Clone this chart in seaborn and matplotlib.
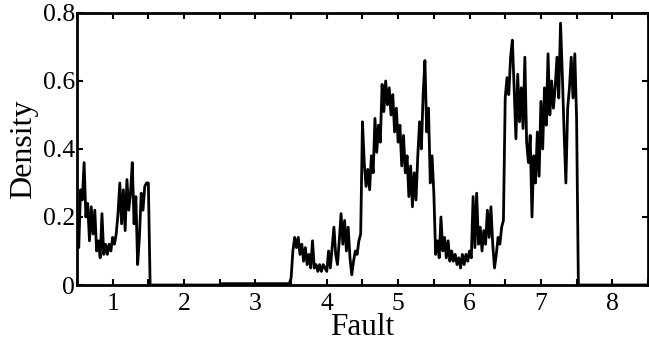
import numpy as np
import pandas as pd
import matplotlib
matplotlib.use("Agg")
import matplotlib.pyplot as plt
import seaborn as sns
from matplotlib.ticker import MultipleLocator, FixedLocator, FixedFormatter

# ---- data (step 0.025 in "Fault") ----
step = 0.025

# Fault 1 region: x = 0.500 .. 1.500
fault1_density = [
    0.19, 0.11, 0.28, 0.25, 0.36, 0.20, 0.24, 0.13, 0.23, 0.15,
    0.22, 0.10, 0.13, 0.08, 0.21, 0.09, 0.12, 0.09, 0.12, 0.10,
    0.14, 0.12, 0.15, 0.21, 0.30, 0.18, 0.28, 0.16, 0.31, 0.22,
    0.27, 0.36, 0.18, 0.26, 0.06, 0.14, 0.27, 0.22, 0.29, 0.30,
    0.30,
]
# x = 1.525 .. 2.500 : zero
gap1_density = [0.0] * 40
# x = 2.525 .. 3.475 : almost zero
gap2_density = [0.004] * 39
# Faults 4-7 region: x = 3.500 .. 7.500
fault4to7_density = [
    0.02, 0.10, 0.14, 0.11,  0.14, 0.09, 0.12, 0.07,  0.11, 0.06, 0.09, 0.05,
    0.13, 0.05, 0.06, 0.04,  0.06, 0.04, 0.06, 0.05,  0.04, 0.10, 0.05, 0.11,
    0.17, 0.09, 0.06, 0.13,  0.21, 0.12, 0.19, 0.10,  0.17, 0.08, 0.03, 0.07,
    0.10, 0.09, 0.13, 0.15,  0.48, 0.36, 0.29, 0.34,  0.28, 0.38, 0.33, 0.49,
    0.39, 0.47, 0.42, 0.59,  0.51, 0.60, 0.53, 0.58,  0.50, 0.56, 0.45, 0.52,
    0.42, 0.47, 0.35, 0.44,  0.33, 0.38, 0.26, 0.35,  0.23, 0.33, 0.25, 0.38,
    0.48, 0.40, 0.56, 0.66,  0.45, 0.52, 0.30, 0.38,  0.27, 0.09, 0.13, 0.08,
    0.20, 0.10, 0.14, 0.08,  0.13, 0.07, 0.10, 0.07,  0.09, 0.06, 0.08, 0.05,
    0.09, 0.06, 0.09, 0.07,  0.10, 0.08, 0.26, 0.11,  0.27, 0.12, 0.17, 0.10,
    0.16, 0.12, 0.22, 0.14,  0.23, 0.12, 0.05, 0.09,  0.14, 0.12, 0.17, 0.19,
    0.55, 0.61, 0.56, 0.67,  0.72, 0.58, 0.43, 0.62,  0.48, 0.58, 0.46, 0.67,
    0.42, 0.36, 0.44, 0.20,  0.38, 0.30, 0.45, 0.32,  0.54, 0.40, 0.58, 0.47,
    0.68, 0.50, 0.60, 0.52,  0.58, 0.67, 0.55, 0.77,  0.62, 0.45, 0.30, 0.52,
    0.58, 0.67, 0.55, 0.68,
    0.49,
]
# x = 7.525 .. 8.500 : zero
tail_density = [0.0] * 40

x_start = 0.5
x_ticks = [1, 2, 3, 4, 5, 6, 7, 8]
x_tick_labels = ["1", "2", "3", "4", "5", "6", "7", "8"]
y_ticks = [0, 0.2, 0.4, 0.6, 0.8]
y_tick_labels = ["0", "0.2", "0.4", "0.6", "0.8"]

density = np.array(fault1_density + gap1_density + gap2_density
                   + fault4to7_density + tail_density)
fault = x_start + step * np.arange(len(density))
df = pd.DataFrame({"Fault": fault, "Density": density})

# ---- plot ----
sns.set_style("ticks")
plt.rcParams["font.family"] = ["Liberation Serif", "DejaVu Serif"]
plt.rcParams["text.color"] = "black"
plt.rcParams["axes.labelcolor"] = "black"
plt.rcParams["xtick.color"] = "black"
plt.rcParams["ytick.color"] = "black"

fig = plt.figure(figsize=(6.49, 3.41), dpi=100)
ax = fig.add_axes([0.1186, 0.1642, 0.8798, 0.7978])

sns.lineplot(data=df, x="Fault", y="Density", color="black",
             linewidth=2.0, ax=ax, estimator=None, sort=False)

ax.set_xlim(0.5, 8.5)
ax.set_ylim(0, 0.8)
ax.xaxis.set_major_locator(FixedLocator(x_ticks))
ax.xaxis.set_major_formatter(FixedFormatter(x_tick_labels))
ax.xaxis.set_minor_locator(MultipleLocator(0.5))
ax.yaxis.set_major_locator(FixedLocator(y_ticks))
ax.yaxis.set_major_formatter(FixedFormatter(y_tick_labels))

ax.tick_params(axis="both", which="both", direction="in", top=True,
               right=True, width=1.5, labelsize=18.5, color="black",
               labelcolor="black")
ax.tick_params(axis="both", which="major", length=4)
ax.tick_params(axis="x", which="both", pad=6)
ax.tick_params(axis="y", which="both", pad=1.5)
ax.tick_params(axis="x", which="minor", length=4)

for s in ax.spines.values():
    s.set_linewidth(2.0)
    s.set_color("black")

ax.set_xlabel("Fault", fontsize=22.5, labelpad=-2, color="black")
ax.set_ylabel("Density", fontsize=23, labelpad=3, color="black")

fig.savefig("out.png", dpi=100)
